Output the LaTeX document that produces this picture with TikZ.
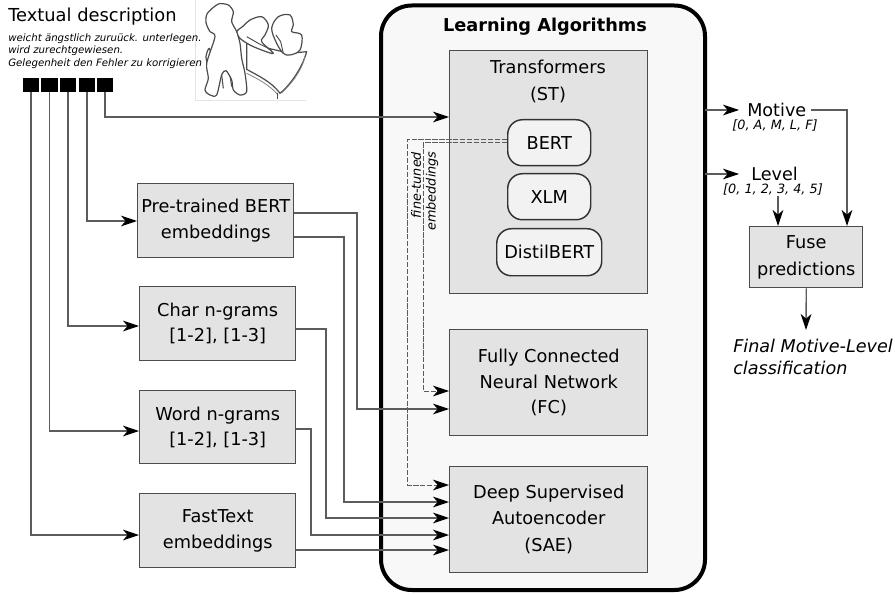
\documentclass[tikz,border=0pt]{standalone}
\usepackage{fontspec}
\setmainfont{DejaVu Sans}
\usetikzlibrary{arrows.meta}
\definecolor{boxfill}{HTML}{E3E3E3}
\definecolor{roundfill}{HTML}{F2F2F2}
\definecolor{outerfill}{HTML}{F8F8F8}
\definecolor{linec}{HTML}{5C5C5C}
\tikzset{
 gbox/.style={draw=black!70,line width=1.1pt,fill=boxfill,align=center,inner sep=0pt,font=\fontsize{13.3pt}{19pt}\selectfont},
 rbox/.style={draw=black!80,line width=1.1pt,fill=roundfill,rounded corners=11pt,align=center,inner sep=0pt,font=\fontsize{13.3pt}{15pt}\selectfont},
 conn/.style={draw=linec,line width=1pt,-{Stealth[length=12pt,width=8pt,inset=3.5pt,black]}},
 dconn/.style={conn,line width=.75pt,dash pattern=on 4pt off 1.2pt},
 sq/.style={fill=black,draw=none,inner sep=0pt,minimum width=12.2pt,minimum height=10.5pt},
 lab/.style={inner sep=0pt,font=\fontsize{13.2pt}{16pt}\selectfont},
 small/.style={inner sep=0pt,font=\fontsize{9.6pt}{11pt}\selectfont\itshape},
 sketch/.style={draw=black!70,line width=.9pt,fill=white,line join=round}
}
\newcommand{\pbox}[6]{\node[#1,minimum width=#4*0.75pt,minimum height=#5*0.75pt,anchor=north west] (#2) at (#3) {#6};}
\begin{document}
\begin{tikzpicture}[x=0.75pt,y=-0.75pt]
\useasboundingbox (0,0) rectangle (895,595);
\fill[white] (0,0) rectangle (895,595);
% sketch
\draw[black!10,line width=.5pt] (195.5,0) -- (195.5,100) -- (306,100);
\begin{scope}[shift={(190,0)},x=0.25pt,y=-0.25pt]
\draw[sketch] (170,208) .. controls (200,225) and (245,245) .. (270,280) .. controls (295,260) and (335,210) .. (350,155) -- (300,160) -- (170,130) -- cycle;
\draw[black!50,line width=.6pt] (170,220) .. controls (200,235) and (240,255) .. (264,285);
\draw[black!50,line width=.6pt] (276,278) .. controls (300,255) and (335,215) .. (345,170);
\draw[black!70,line width=1pt] (262,278) -- (262,296);
\draw[sketch] plot[smooth cycle,tension=.55] coordinates {(140,95) (160,78) (180,60) (215,50) (235,75) (225,105) (215,125) (250,160) (215,150) (180,135) (150,115)};
\draw[sketch] plot[smooth cycle,tension=.55] coordinates {(245,85) (265,50) (300,45) (310,75) (305,95) (335,105) (330,150) (300,165) (280,160) (260,130)};
\draw[black!70,line width=.7pt] (170,110) -- (205,130) -- (245,150);
\draw[black!70,line width=.7pt] (258,105) -- (272,125) -- (280,160);
\draw[black!70,line width=.8pt] (95,225) -- (100,265) (120,225) -- (125,260);
\draw[sketch] plot[smooth cycle,tension=.5] coordinates {(58,145) (48,170) (55,195) (68,190)};
\draw[sketch] plot[smooth cycle,tension=.45] coordinates {(52,40) (85,12) (115,15) (130,35) (125,65) (140,95) (150,130) (155,175) (165,220) (170,275) (150,285) (130,270) (125,240) (108,212) (95,225) (80,285) (60,285) (45,270) (55,235) (50,190) (75,110) (60,95) (48,68)};
\end{scope}
% outer
\draw[black,line width=3pt,fill=outerfill,rounded corners=23pt] (381,5.5) rectangle (705,590);
\node[lab,font=\fontsize{13.3pt}{16pt}\selectfont\bfseries] (la) at (545,27) {Learning Algorithms};
% boxes
\pbox{gbox}{st}{449,50}{198}{243}{}
\node[lab,align=center,font=\fontsize{13.3pt}{20pt}\selectfont] (stl) at (548,81.5) {Transformers\\(ST)};
\pbox{rbox}{bert}{507,119}{83}{46}{BERT}
\pbox{rbox}{xlm}{507,173}{83}{46}{XLM}
\pbox{rbox}{dist}{496,228}{105}{47}{DistilBERT}
\pbox{gbox}{fc}{449,329}{198}{106}{Fully Connected\\Neural Network\\(FC)}
\pbox{gbox}{sae}{449,466}{198}{106}{Deep Supervised\\Autoencoder\\[1.5pt](SAE)}
\pbox{gbox}{pre}{137,183}{156}{74}{Pre-trained BERT\\embeddings}
\pbox{gbox}{chr}{139,286}{156}{74}{Char n-grams\\{[1-2], [1-3]}}
\pbox{gbox}{wrd}{139,390}{156}{73}{Word n-grams\\{[1-2], [1-3]}}
\pbox{gbox}{fst}{139,493}{156}{74}{FastText\\embeddings}
\pbox{gbox}{fuse}{749,226}{113}{61}{Fuse\\[1pt]predictions}
% text
\node[lab,anchor=west,font=\fontsize{13.4pt}{16pt}\selectfont] (td) at (8,17) {Textual description};
\node[small,anchor=north west,align=left,font=\fontsize{7.65pt}{9.4pt}\selectfont\itshape] (tx) at (8,33) {weicht ängstlich zuruück. unterlegen.\\wird zurechtgewiesen.\\Gelegenheit den Fehler zu korrigieren};
% squares
\node[sq] (s1) at (31,85) {};
\node[sq] (s2) at (49.5,85) {};
\node[sq] (s3) at (68,85) {};
\node[sq] (s4) at (87,85) {};
\node[sq] (s5) at (105,85) {};
% inputs
\draw[conn] (s5.south) |- (st.west |- 0,117);
\draw[conn] (s4.south) |- (pre.west |- 0,221);
\draw[conn] (s3.south) |- (chr.west |- 0,326);
\draw[conn] (s2.south) |- (wrd.west |- 0,431);
\draw[conn] (s1.south) |- (fst.west |- 0,535);
% to algorithms
\draw[conn] (pre.east |- 0,213) -| (357,409) -- (fc.west |- 0,409);
\draw[conn] (pre.east |- 0,237) -| (344,502) -- (sae.west |- 0,502);
\draw[conn] (chr.east |- 0,329) -| (326,518) -- (sae.west |- 0,518);
\draw[conn] (wrd.east |- 0,429) -| (311,535) -- (sae.west |- 0,535);
\draw[conn] (fst.east |- 0,550) -- (sae.west |- 0,550);
% dashed
\draw[dconn] (bert.west |- 0,139.5) -| (407.5,485) -- (sae.west |- 0,485);
\draw[dconn] (bert.west |- 0,143) -| (423,391) -- (fc.west |- 0,391);
\node[small,rotate=90] (ft) at (416,185) {fine-tuned};
\node[small,rotate=90] (em) at (432,191) {embeddings};
% outputs
\node[lab,anchor=west] (mot) at (747,110) {Motive};
\node[lab,anchor=west] (lev) at (751,174) {Level};
\node[small] (ml) at (775,125) {[0, A, M, L, F]};
\node[small] (ll) at (773,189) {[0, 1, 2, 3, 4, 5]};
\coordinate (om) at (705,110);
\coordinate (ol) at (705,174);
\coordinate (lb) at (778,196);
\draw[conn] (om) -- (739,110);
\draw[conn] (ol) -- (739,174);
\draw[conn] (mot.east) ++(4,0) -| (847,226);
\draw[conn] (lb) -- (778,226);
\draw[conn] (fuse.south) -- (806,330);
\node[lab,anchor=north west,align=left,font=\fontsize{13.2pt}{16.5pt}\selectfont\itshape] (fin) at (733,339) {Final Motive-Level\\classification};
\end{tikzpicture}
\end{document}
